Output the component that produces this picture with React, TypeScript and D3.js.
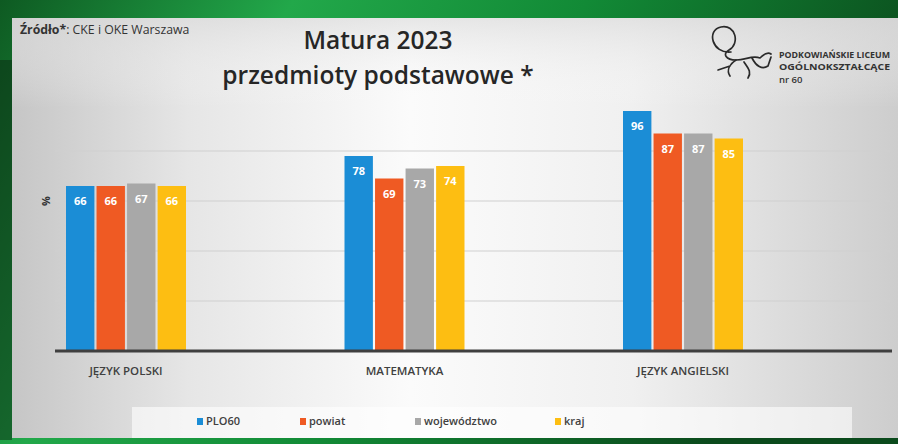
import React from "react";
import * as d3 from "d3";

const categories = ["JĘZYK POLSKI", "MATEMATYKA", "JĘZYK ANGIELSKI"];
const seriesNames = ["PLO60", "powiat", "województwo", "kraj"];
const PLO60 = [66, 78, 96];
const powiat = [66, 69, 87];
const wojewodztwo = [67, 73, 87];
const kraj = [66, 74, 85];
const seriesValues = [PLO60, powiat, wojewodztwo, kraj];
const colors = ["#1b8dd6", "#ef5a23", "#a8a8a8", "#fdbe12"];
const gridTicks = [20, 40, 60, 80];

const W = 898;
const H = 444;
const FONT = "'Open Sans', 'Liberation Sans', sans-serif";

export default function App() {
  const y = d3.scaleLinear().domain([0, 100]).range([351, 101]);
  const x0 = d3.scalePoint<string>().domain(categories).range([126, 683]);
  const x1 = d3.scaleBand<string>().domain(seriesNames).range([-60, 60]).paddingInner(0.07);
  const legendX = [197, 300, 415, 555];

  return (
    <svg width={W} height={H} style={{ position: "absolute", left: 0, top: 0, display: "block" }}>
      <defs>
        <linearGradient id="green" x1="0" y1="0" x2="1" y2="0.3">
          <stop offset="0" stopColor="#0e5a22" />
          <stop offset="0.3" stopColor="#22a84a" />
          <stop offset="0.6" stopColor="#128a36" />
          <stop offset="1" stopColor="#0b4a1c" />
        </linearGradient>
        <linearGradient id="slide" x1="0" y1="0" x2="1" y2="0">
          <stop offset="0" stopColor="#c6c6c6" />
          <stop offset="0.2" stopColor="#e6e6e6" />
          <stop offset="0.45" stopColor="#fbfbfb" />
          <stop offset="0.7" stopColor="#f0f0f0" />
          <stop offset="1" stopColor="#cdcdcd" />
        </linearGradient>
        <linearGradient id="topfade" x1="0" y1="0" x2="0" y2="1">
          <stop offset="0" stopColor="#d9d9d9" stopOpacity="0.6" />
          <stop offset="1" stopColor="#ffffff" stopOpacity="0" />
        </linearGradient>
      </defs>
      <rect x={0} y={0} width={W} height={H} fill="url(#green)" />
      <rect x={0} y={60} width={12} height={380} fill="#0a2a12" opacity={0.5} />
      <rect x={12} y={18} width={W - 12} height={420} fill="url(#slide)" />
      <rect x={12} y={18} width={W - 12} height={90} fill="url(#topfade)" />
      <rect x={132} y={407} width={720} height={31} fill="#ffffff" opacity={0.6} />

      {/* source */}
      <text x={20} y={34} fontFamily={FONT} fontSize={12.3} fill="#333">
        <tspan fontWeight={700}>Źródło*</tspan>
        <tspan>: CKE i OKE Warszawa</tspan>
      </text>

      {/* title */}
      <text x={378} y={49} textAnchor="middle" fontFamily={FONT} fontWeight={600} fontSize={24.5} fill="#262626">
        Matura 2023
      </text>
      <text x={378} y={84} textAnchor="middle" fontFamily={FONT} fontWeight={600} fontSize={24.5} fill="#262626">
        przedmioty podstawowe *
      </text>

      {/* logo */}
      <g fill="none" stroke="#2a2a2a" strokeWidth={1.7} strokeLinecap="round" strokeLinejoin="round">
        <path d="M731,52 C712,54 706,30 721,27 C736,24 740,44 729,50 C722,54 726,60 736,60 C746,60 752,55 760,58 C764,54 768,52 771,54" />
        <path d="M736,60 C730,64 726,70 730,76 M730,66 L718,70" />
        <path d="M752,58 C756,66 762,70 768,66 L771,57" />
        <path d="M744,62 C748,68 752,72 748,78" />
      </g>
      <g fontFamily={FONT} fontWeight={700} fill="#333">
        <text x={779} y={58} fontSize={8} textLength={111} lengthAdjust="spacingAndGlyphs">PODKOWIAŃSKIE LICEUM</text>
        <text x={779} y={70} fontSize={9.2} textLength={111} lengthAdjust="spacingAndGlyphs">OGÓLNOKSZTAŁCĄCE</text>
        <text x={779} y={83} fontSize={9.5} fontWeight={600}>nr 60</text>
      </g>

      {/* gridlines */}
      {gridTicks.map((t) => (
        <line key={t} x1={55} x2={890} y1={y(t)} y2={y(t)} stroke="#cfcfcf" strokeWidth={1.2} />
      ))}
      <text
        transform={`translate(45,${y(60)}) rotate(-90)`}
        textAnchor="middle"
        dominantBaseline="central"
        fontFamily={FONT}
        fontSize={11}
        fontWeight={700}
        fill="#333"
      >
        %
      </text>

      {/* bars */}
      {categories.map((c, ci) => (
        <g key={c} transform={`translate(${x0(c)},0)`}>
          {seriesNames.map((s, si) => {
            const v = seriesValues[si][ci];
            const bx = x1(s)!;
            return (
              <g key={s}>
                <rect x={bx} y={y(v)} width={x1.bandwidth()} height={y(0) - y(v)} fill={colors[si]} />
                <text
                  x={bx + x1.bandwidth() / 2}
                  y={y(v) + 19}
                  textAnchor="middle"
                  fontFamily={FONT}
                  fontWeight={700}
                  fontSize={11}
                  fill="#ffffff"
                >
                  {v}
                </text>
              </g>
            );
          })}
          <text
            x={0}
            y={375}
            textAnchor="middle"
            fontFamily={FONT}
            fontWeight={600}
            fontSize={11.5}
            fill="#404040"
          >
            {c}
          </text>
        </g>
      ))}

      {/* axis baseline */}
      <line x1={55} x2={892} y1={y(0)} y2={y(0)} stroke="#3f3f3f" strokeWidth={3} />

      {/* legend */}
      {seriesNames.map((s, i) => (
        <g key={s}>
          <rect x={legendX[i]} y={418} width={6} height={7} fill={colors[i]} />
          <text x={legendX[i] + 9} y={425} fontFamily={FONT} fontSize={11} fontWeight={600} fill="#404040">
            {s}
          </text>
        </g>
      ))}
    </svg>
  );
}
